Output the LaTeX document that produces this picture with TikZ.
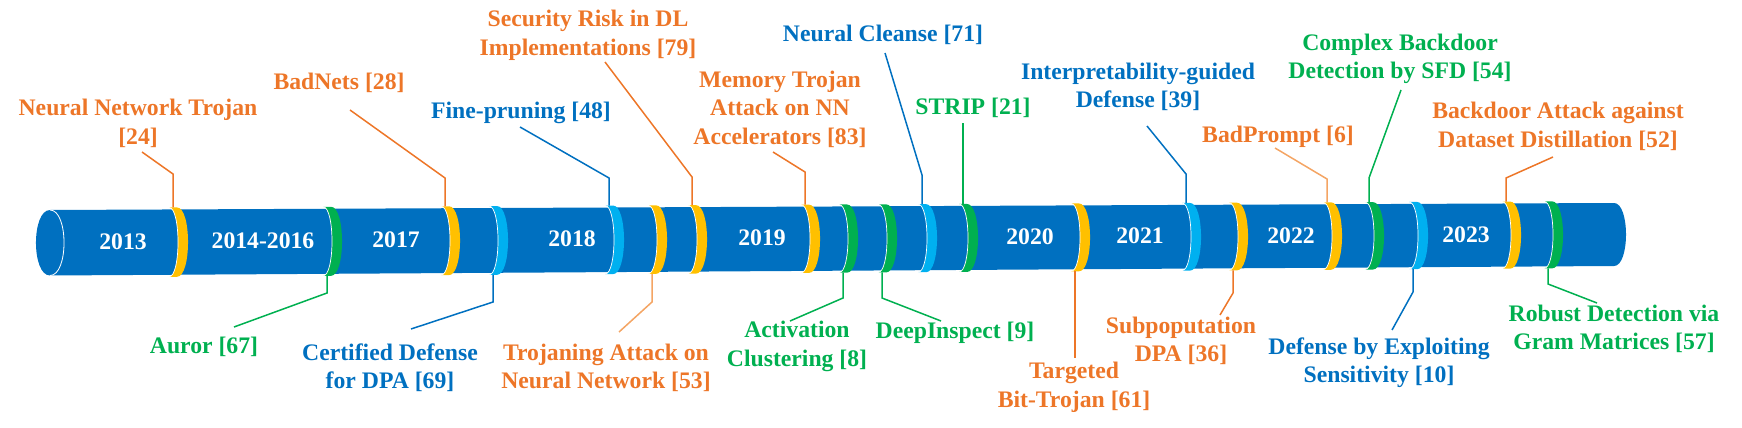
\documentclass[tikz,border=0pt]{standalone}
\usepackage{fontspec}
\setmainfont{Liberation Serif}
\definecolor{cylblue}{RGB}{0,112,192}
\definecolor{ringY}{RGB}{255,192,0}
\definecolor{ringG}{RGB}{0,176,80}
\definecolor{ringL}{RGB}{0,176,240}
\definecolor{txtO}{RGB}{237,118,40}
\definecolor{txtB}{RGB}{0,112,192}
\definecolor{txtG}{RGB}{0,176,80}
\definecolor{lnLO}{RGB}{244,165,100}
\begin{document}
\begin{tikzpicture}[x=1pt,y=-1pt,
  lab/.style={font=\fontsize{23.7}{28.5}\selectfont\bfseries, align=center, inner sep=0pt},
  yr/.style={font=\fontsize{23.7}{28.5}\selectfont\bfseries, text=white, inner sep=0pt},
  conn/.style={line width=1.5pt},
]
\useasboundingbox (0,0) rectangle (1742,428);
% cylinder body
\fill[cylblue] (50,210) -- (1614,203) .. controls (1630,203) and (1630,266) .. (1614,266)
  -- (50,275.5) .. controls (31.3,275.5) and (31.3,210) .. (50,210) -- cycle;
\draw[white, line width=0.8pt] (50,210) .. controls (68.7,210) and (68.7,275.5) .. (50,275.5);
% rings
\foreach \p/\c [count=\i] in {169/ringY,323/ringG,441/ringY,489/ringL,605/ringL,648/ringY,688/ringY,801/ringY,
  839/ringG,878/ringG,918/ringL,959/ringG,1071/ringY,1182/ringL,1229/ringY,1323/ringY,1365/ringG,1409/ringL,1502/ringY,1544/ringG}{
  \pgfmathsetmacro\yt{210-7*(\p-50)/1564-2}
  \pgfmathsetmacro\yb{275.5-9.5*(\p-50)/1564+2}
  \fill[\c] (\p,\yt) .. controls ({\p+12},\yt) and ({\p+12},\yb) .. (\p,\yb)
     -- ({\p+8},\yb) .. controls ({\p+22.7},\yb) and ({\p+22.7},\yt) .. ({\p+8},\yt) -- cycle;
  \draw[white, line width=0.7pt] (\p,\yt) .. controls ({\p+12},\yt) and ({\p+12},\yb) .. (\p,\yb);
  \coordinate (r\i t) at ({\p+4},\yt);
  \coordinate (r\i b) at ({\p+4},\yb);
}
% year labels
\node[yr] (y13) at (123,242) {2013};
\node[yr] (y14) at (263,241) {2014-2016};
\node[yr] (y17) at (396,240) {2017};
\node[yr] (y18) at (572,239) {2018};
\node[yr] (y19) at (762,238) {2019};
\node[yr] (y20) at (1030,237) {2020};
\node[yr] (y21) at (1140,236) {2021};
\node[yr] (y22) at (1291,236) {2022};
\node[yr] (y23) at (1466,235) {2023};
% top labels
\node[lab, text=txtO] (lNNT) at (138,123.5) {Neural Network Trojan\\\relax [24]};
\node[lab, text=txtO] (lBad) at (339,83) {BadNets [28]};
\node[lab, text=txtB] (lFine) at (521,113) {Fine-pruning [48]};
\node[lab, text=txtO] (lSec) at (588,35.5) {Security Risk in DL\\Implementations [79]};
\node[lab, text=txtO] (lMem) at (780,109) {Memory Trojan\\Attack on NN\\Accelerators [83]};
\node[lab, text=txtB] (lNC) at (883,35) {Neural Cleanse [71]};
\node[lab, text=txtG] (lSTRIP) at (973,108) {STRIP [21]};
\node[lab, text=txtB] (lInt) at (1138,87) {Interpretability-guided\\Defense [39]};
\node[lab, text=txtO] (lBP) at (1278,137) {BadPrompt [6]};
\node[lab, text=txtG] (lCB) at (1400,59) {Complex Backdoor\\Detection by SFD [54]};
\node[lab, text=txtO] (lBDD) at (1558,126.5) {Backdoor Attack against\\Dataset Distillation [52]};
% bottom labels
\node[lab, text=txtG] (lAur) at (204,347) {Auror [67]};
\node[lab, text=txtB] (lCert) at (390,367.5) {Certified Defense\\for DPA [69]};
\node[lab, text=txtO] (lTroj) at (606,368) {Trojaning Attack on\\Neural Network [53]};
\node[lab, text=txtG] (lAct) at (797,346.5) {Activation\\Clustering [8]};
\node[lab, text=txtG] (lDeep) at (955,333) {DeepInspect [9]};
\node[lab, text=txtO] (lTarg) at (1074,387.5) {Targeted\\Bit-Trojan [61]};
\node[lab, text=txtO] (lSub) at (1181,341) {Subpoputation\\DPA [36]};
\node[lab, text=txtB] (lDef) at (1379,362.5) {Defense by Exploiting\\Sensitivity [10]};
\node[lab, text=txtG] (lRob) at (1614,329) {Robust Detection via\\Gram Matrices [57]};
% connector knees and ends
\coordinate (k1) at (173,174);   \coordinate (e1) at (142,152);
\coordinate (k3) at (445,178);   \coordinate (e3) at (350,110);
\coordinate (k5) at (609,178);   \coordinate (e5) at (520,127);
\coordinate (k7) at (692,177);   \coordinate (e7) at (605,62);
\coordinate (k8) at (805,172);   \coordinate (e8) at (773,152);
\coordinate (k11) at (922,175);  \coordinate (e11) at (885,53);
\coordinate (e12) at (963,123);
\coordinate (k14) at (1186,174); \coordinate (e14) at (1147,126);
\coordinate (k16) at (1327,179); \coordinate (e16) at (1275,148);
\coordinate (k17) at (1369,178); \coordinate (e17) at (1401,90);
\coordinate (k19) at (1506,178); \coordinate (e19) at (1553,157);
\coordinate (k2) at (327,293);   \coordinate (e2) at (234,327);
\coordinate (k4) at (493,302);   \coordinate (e4) at (411,329);
\coordinate (k6) at (652,302);   \coordinate (e6) at (619,332);
\coordinate (k9) at (843,298);   \coordinate (e9) at (790,321);
\coordinate (k10) at (882,298);  \coordinate (e10) at (941,321);
\coordinate (e13) at (1075,358);
\coordinate (k15) at (1233,293); \coordinate (e15) at (1220,315);
\coordinate (k18) at (1413,292); \coordinate (e18) at (1392,330);
\coordinate (k20) at (1548,284); \coordinate (e20) at (1597,303);
% connectors
\draw[conn, txtO] (r1t) -- (k1) -- (e1);
\draw[conn, txtO] (r3t) -- (k3) -- (e3);
\draw[conn, txtB] (r5t) -- (k5) -- (e5);
\draw[conn, txtO] (r7t) -- (k7) -- (e7);
\draw[conn, txtO] (r8t) -- (k8) -- (e8);
\draw[conn, txtB] (r11t) -- (k11) -- (e11);
\draw[conn, txtG] (r12t) -- (e12);
\draw[conn, txtB] (r14t) -- (k14) -- (e14);
\draw[conn, lnLO] (r16t) -- (k16) -- (e16);
\draw[conn, txtG] (r17t) -- (k17) -- (e17);
\draw[conn, txtO] (r19t) -- (k19) -- (e19);
\draw[conn, txtG] (r2b) -- (k2) -- (e2);
\draw[conn, txtB] (r4b) -- (k4) -- (e4);
\draw[conn, lnLO] (r6b) -- (k6) -- (e6);
\draw[conn, txtG] (r9b) -- (k9) -- (e9);
\draw[conn, txtG] (r10b) -- (k10) -- (e10);
\draw[conn, txtO] (r13b) -- (e13);
\draw[conn, txtO] (r15b) -- (k15) -- (e15);
\draw[conn, txtB] (r18b) -- (k18) -- (e18);
\draw[conn, txtG] (r20b) -- (k20) -- (e20);
\end{tikzpicture}
\end{document}
